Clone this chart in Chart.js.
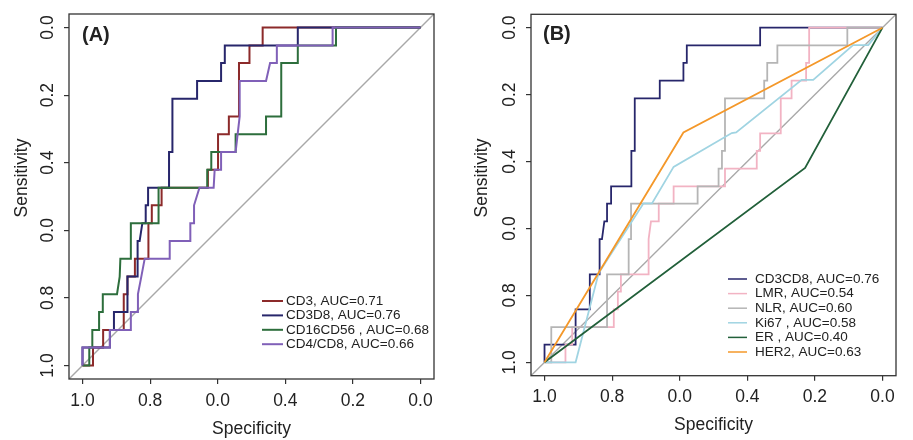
<!DOCTYPE html>
<html>
<head>
<meta charset="utf-8">
<script src="https://cdn.jsdelivr.net/npm/chart.js@4.4.1/dist/chart.umd.min.js"></script>
<style>
  html, body { margin: 0; padding: 0; background: #fff; }
  #wrap { position: relative; width: 913px; height: 440px; }
  #panelA { position: absolute; left: 0; top: 0; }
  #panelB { position: absolute; left: 456px; top: 0; }
</style>
</head>
<body>
<div id="wrap">
  <canvas id="panelA" width="456" height="440"></canvas>
  <canvas id="panelB" width="457" height="440"></canvas>
</div>
<script>
const FONT = "'Liberation Sans', Arial, sans-serif";

// axis ticks, labels as printed in the figure
const tickValues = [0, 0.2, 0.4, 0.6, 0.8, 1];
const specTickLabels = ["0.0", "0.2", "0.4", "0.0", "0.8", "1.0"];
const sensTickLabels = ["1.0", "0.8", "0.0", "0.4", "0.2", "0.0"];

// reference (chance) line, corner to corner of the axis limits
const chanceLine = [[1.04, -0.04], [-0.04, 1.04]];

// panel A: [specificity, sensitivity]
const cd3Points = [[1, 0], [0.969, 0], [0.969, 0.053], [0.939, 0.053], [0.939, 0.105], [0.878, 0.105], [0.878, 0.211], [0.867, 0.211], [0.867, 0.263], [0.845, 0.263], [0.845, 0.316], [0.805, 0.316], [0.805, 0.421], [0.795, 0.421], [0.795, 0.474], [0.766, 0.474], [0.766, 0.526], [0.629, 0.526], [0.629, 0.579], [0.599, 0.579], [0.599, 0.684], [0.567, 0.684], [0.567, 0.737], [0.537, 0.737], [0.537, 0.895], [0.506, 0.895], [0.506, 0.947], [0.467, 0.947], [0.467, 1], [0, 1]];
const cd3d8Points = [[1, 0], [1, 0.053], [0.919, 0.053], [0.919, 0.105], [0.907, 0.105], [0.907, 0.158], [0.867, 0.158], [0.867, 0.263], [0.837, 0.263], [0.837, 0.368], [0.831, 0.368], [0.823, 0.421], [0.813, 0.421], [0.813, 0.474], [0.806, 0.474], [0.806, 0.526], [0.744, 0.526], [0.744, 0.632], [0.734, 0.632], [0.734, 0.789], [0.661, 0.789], [0.661, 0.842], [0.590, 0.842], [0.590, 0.895], [0.579, 0.895], [0.579, 0.947], [0.363, 0.947], [0.363, 1], [0, 1]];
const cd16cd56Points = [[1, 0], [0.980, 0], [0.980, 0.053], [0.971, 0.053], [0.971, 0.105], [0.951, 0.105], [0.951, 0.158], [0.940, 0.158], [0.940, 0.211], [0.898, 0.211], [0.890, 0.263], [0.888, 0.316], [0.857, 0.316], [0.857, 0.421], [0.775, 0.421], [0.775, 0.526], [0.631, 0.526], [0.631, 0.579], [0.619, 0.579], [0.619, 0.632], [0.547, 0.632], [0.547, 0.684], [0.457, 0.684], [0.457, 0.737], [0.412, 0.737], [0.412, 0.895], [0.363, 0.895], [0.363, 0.947], [0.250, 0.947], [0.250, 1], [0, 1]];
const cd4cd8Points = [[1, 0], [1, 0.053], [0.919, 0.053], [0.919, 0.105], [0.857, 0.105], [0.857, 0.158], [0.836, 0.158], [0.836, 0.211], [0.826, 0.263], [0.816, 0.316], [0.742, 0.316], [0.742, 0.368], [0.681, 0.368], [0.681, 0.421], [0.670, 0.421], [0.670, 0.474], [0.654, 0.526], [0.612, 0.526], [0.609, 0.579], [0.590, 0.579], [0.590, 0.632], [0.547, 0.632], [0.535, 0.737], [0.535, 0.842], [0.457, 0.842], [0.445, 0.895], [0.425, 0.895], [0.425, 0.947], [0.260, 0.947], [0.260, 1], [0, 1]];

// panel B
const cd3cd8Points = [[1, 0], [1, 0.053], [0.908, 0.053], [0.908, 0.158], [0.866, 0.158], [0.866, 0.263], [0.837, 0.263], [0.837, 0.368], [0.830, 0.368], [0.823, 0.421], [0.815, 0.421], [0.815, 0.474], [0.803, 0.474], [0.803, 0.526], [0.743, 0.526], [0.743, 0.632], [0.733, 0.632], [0.733, 0.789], [0.659, 0.789], [0.659, 0.842], [0.589, 0.842], [0.589, 0.895], [0.579, 0.895], [0.579, 0.947], [0.362, 0.947], [0.362, 1], [0, 1]];
const lmrPoints = [[1, 0], [0.938, 0], [0.938, 0.053], [0.918, 0.053], [0.918, 0.105], [0.795, 0.105], [0.795, 0.158], [0.783, 0.158], [0.783, 0.211], [0.774, 0.211], [0.774, 0.263], [0.692, 0.263], [0.692, 0.368], [0.685, 0.421], [0.662, 0.421], [0.662, 0.474], [0.618, 0.474], [0.618, 0.526], [0.466, 0.526], [0.466, 0.579], [0.372, 0.579], [0.372, 0.632], [0.362, 0.632], [0.362, 0.684], [0.301, 0.684], [0.301, 0.789], [0.269, 0.789], [0.269, 0.842], [0.226, 0.842], [0.226, 0.895], [0.217, 0.895], [0.217, 1], [0, 1]];
const nlrPoints = [[1, 0], [0.980, 0], [0.980, 0.105], [0.815, 0.105], [0.815, 0.263], [0.751, 0.263], [0.751, 0.368], [0.744, 0.368], [0.744, 0.474], [0.547, 0.474], [0.547, 0.526], [0.485, 0.526], [0.485, 0.579], [0.475, 0.579], [0.475, 0.632], [0.466, 0.632], [0.466, 0.789], [0.350, 0.789], [0.350, 0.842], [0.341, 0.842], [0.341, 0.895], [0.311, 0.895], [0.311, 0.947], [0.104, 0.947], [0.104, 1], [0, 1]];
const ki67Points = [[1, 0], [0.908, 0], [0.840, 0.266], [0.707, 0.475], [0.682, 0.475], [0.618, 0.584], [0.446, 0.685], [0.433, 0.687], [0.239, 0.844], [0.205, 0.844], [0.087, 0.948], [0.042, 0.948], [0, 1]];
const erPoints = [[1, 0], [0.229, 0.581], [0, 1]];
const her2Points = [[1, 0], [0.589, 0.687], [0, 1]];

const panelASeries = [
  { label: "CD3, AUC=0.71", points: cd3Points, color: "#8c2a2a" },
  { label: "CD3D8, AUC=0.76", points: cd3d8Points, color: "#27266b" },
  { label: "CD16CD56 , AUC=0.68", points: cd16cd56Points, color: "#2d6e3c" },
  { label: "CD4/CD8, AUC=0.66", points: cd4cd8Points, color: "#8060b8" },
];
const panelBSeries = [
  { label: "CD3CD8, AUC=0.76", points: cd3cd8Points, color: "#27266b" },
  { label: "LMR, AUC=0.54", points: lmrPoints, color: "#f2b3c3" },
  { label: "NLR, AUC=0.60", points: nlrPoints, color: "#b5b5b5" },
  { label: "Ki67 , AUC=0.58", points: ki67Points, color: "#a0d4e2" },
  { label: "ER , AUC=0.40", points: erPoints, color: "#22603a" },
  { label: "HER2, AUC=0.63", points: her2Points, color: "#f4982a" },
];

// box, panel tag, y title and the in-plot legend
const panelDecor = {
  id: "panelDecor",
  afterDraw(chart, args, opts) {
    const { ctx, chartArea: a } = chart;
    ctx.save();
    ctx.strokeStyle = "#333";
    ctx.lineWidth = 1.3;
    ctx.strokeRect(a.left, a.top, a.right - a.left, a.bottom - a.top);

    ctx.fillStyle = "#222";
    ctx.font = "bold 20px " + FONT;
    ctx.textAlign = "left";
    ctx.textBaseline = "middle";
    ctx.fillText(opts.tag, opts.tagX, opts.tagY);

    ctx.font = "17.5px " + FONT;
    ctx.translate(opts.yTitleX, opts.yTitleY);
    ctx.rotate(-Math.PI / 2);
    ctx.textAlign = "center";
    ctx.fillText("Sensitivity", 0, 0);
    ctx.restore();

    ctx.save();
    ctx.font = opts.legendFont + "px " + FONT;
    ctx.textBaseline = "middle";
    ctx.textAlign = "left";
    chart.data.datasets
      .filter((d) => d.label)
      .forEach((d, i) => {
        const y = opts.legendY + i * opts.legendStep;
        ctx.strokeStyle = d.borderColor;
        ctx.lineWidth = opts.legendLineWidth;
        ctx.beginPath();
        ctx.moveTo(opts.legendLineX0, y);
        ctx.lineTo(opts.legendLineX1, y);
        ctx.stroke();
        ctx.fillStyle = "#222";
        ctx.fillText(d.label, opts.legendTextX, y);
      });
    ctx.restore();
  },
};

function createRocChart(canvasId, series, layout) {
  const datasets = series.map((s, i) => ({
    label: s.label,
    data: s.points.map((p) => ({ x: p[0], y: p[1] })),
    borderColor: s.color,
    borderWidth: layout.lineWidth,
    pointRadius: 0,
    tension: 0,
    fill: false,
    order: series.length - i,
  }));
  datasets.push({
    label: "",
    data: chanceLine.map((p) => ({ x: p[0], y: p[1] })),
    borderColor: "#a8a8a8",
    borderWidth: 1.4,
    pointRadius: 0,
    fill: false,
    order: 100,
  });

  const tickFont = { family: FONT, size: 17.5 };

  return new Chart(document.getElementById(canvasId), {
    type: "line",
    data: { datasets },
    options: {
      responsive: false,
      animation: false,
      layout: { padding: layout.padding },
      scales: {
        x: {
          type: "linear",
          min: -0.04,
          max: 1.04,
          reverse: true,
          afterBuildTicks: (axis) => {
            axis.ticks = tickValues.map((v) => ({ value: v }));
          },
          afterFit: (axis) => {
            axis.height = layout.xAxisHeight;
          },
          border: { display: false },
          grid: {
            drawOnChartArea: false,
            drawTicks: true,
            tickLength: 5,
            tickColor: "#333",
            lineWidth: 1.2,
          },
          ticks: {
            color: "#222",
            font: tickFont,
            padding: layout.xTickPad,
            maxRotation: 0,
            autoSkip: false,
            callback: (v, i) => specTickLabels[i],
          },
          title: {
            display: true,
            text: "Specificity",
            color: "#222",
            font: tickFont,
            padding: { top: 0, bottom: layout.xTitlePad },
          },
        },
        y: {
          type: "linear",
          min: -0.04,
          max: 1.04,
          afterBuildTicks: (axis) => {
            axis.ticks = tickValues.map((v) => ({ value: v }));
          },
          afterFit: (axis) => {
            axis.width = layout.yAxisWidth;
          },
          border: { display: false },
          grid: {
            drawOnChartArea: false,
            drawTicks: true,
            tickLength: 5,
            tickColor: "#333",
            lineWidth: 1.2,
          },
          ticks: {
            color: "#222",
            font: tickFont,
            padding: layout.yTickPad,
            minRotation: 90,
            maxRotation: 90,
            crossAlign: "center",
            autoSkip: false,
            callback: (v, i) => sensTickLabels[i],
          },
        },
      },
      plugins: {
        legend: { display: false },
        tooltip: { enabled: false },
        panelDecor: layout.decor,
      },
    },
    plugins: [panelDecor],
  });
}

createRocChart("panelA", panelASeries, {
  lineWidth: 2,
  padding: { left: 0, top: 14, right: 22, bottom: 0 },
  xAxisHeight: 61,
  yAxisWidth: 69,
  xTickPad: 7,
  yTickPad: 3.5,
  xTitlePad: 0,
  decor: {
    tag: "(A)", tagX: 82, tagY: 35,
    yTitleX: 22, yTitleY: 178,
    legendFont: 13.5, legendY: 301, legendStep: 14.4,
    legendLineX0: 262, legendLineX1: 283, legendTextX: 286, legendLineWidth: 2,
  },
});

createRocChart("panelB", panelBSeries, {
  lineWidth: 1.8,
  padding: { left: 0, top: 10.7, right: 17, bottom: 0 },
  xAxisHeight: 64.3,
  yAxisWidth: 75,
  xTickPad: 5.5,
  yTickPad: 3.8,
  xTitlePad: 4,
  decor: {
    tag: "(B)", tagX: 87, tagY: 34,
    yTitleX: 26.5, yTitleY: 178,
    legendFont: 13.5, legendY: 279, legendStep: 14.6,
    legendLineX0: 272, legendLineX1: 291, legendTextX: 299, legendLineWidth: 1.5,
  },
});
</script>
</body>
</html>
